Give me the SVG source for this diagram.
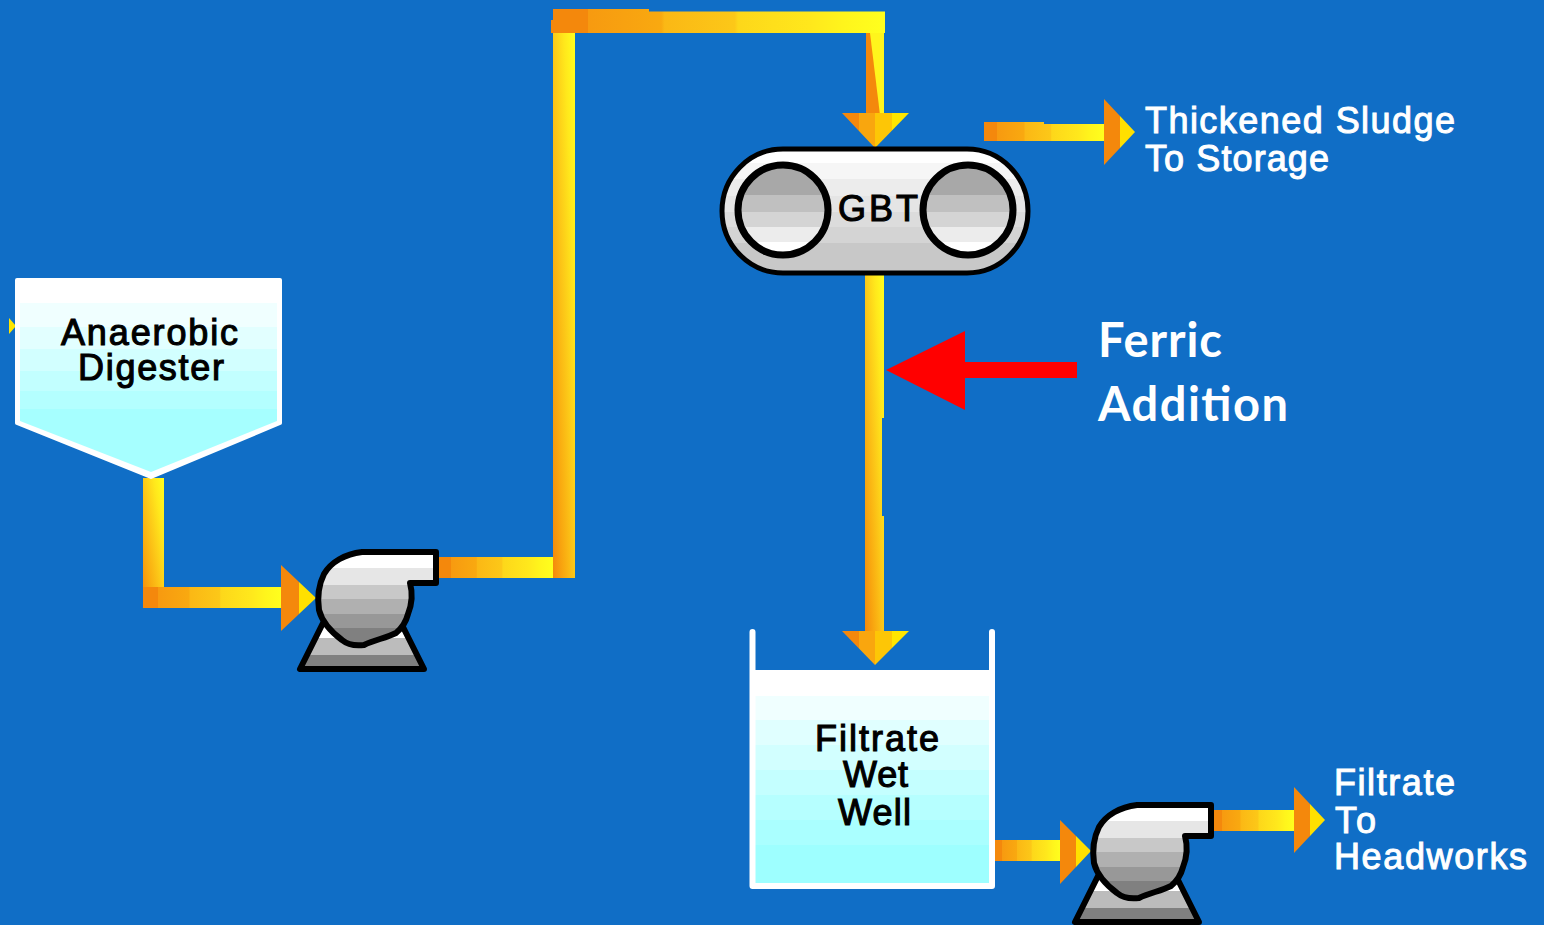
<svg xmlns="http://www.w3.org/2000/svg" width="1544" height="925" viewBox="0 0 1544 925">
<style>
.lbl{font-family:"Liberation Sans",Arial,sans-serif;font-size:36px;fill:#fff;stroke:#fff;stroke-width:1px}
.blk{font-family:"Liberation Sans",Arial,sans-serif;font-size:36px;fill:#000;stroke:#000;stroke-width:1.100px}
.fer{font-family:Lato,"Open Sans",sans-serif;font-size:47px;font-weight:700;fill:#fff}
.ln{stroke:#000;stroke-width:6;stroke-linejoin:round}
</style>
<defs>
<linearGradient id="h" x1="0" x2="1" y1="0" y2="0"><stop offset="0" stop-color="#f4880c"/><stop offset=".11" stop-color="#f4880c"/><stop offset=".11" stop-color="#f79a10"/><stop offset=".33" stop-color="#f9a910"/><stop offset=".34" stop-color="#fbb815"/><stop offset=".55" stop-color="#fcc818"/><stop offset=".56" stop-color="#fdd71a"/><stop offset=".78" stop-color="#ffe81c"/><stop offset=".88" stop-color="#fff51c"/><stop offset="1" stop-color="#ffff1e"/></linearGradient>
<linearGradient id="dg" x1="0" y1="1" x2="1" y2="0"><stop offset="0" stop-color="#f4880c"/><stop offset=".25" stop-color="#f9a910"/><stop offset=".5" stop-color="#fcc818"/><stop offset=".75" stop-color="#ffe81c"/><stop offset="1" stop-color="#ffff1e"/></linearGradient>
<linearGradient id="ad" x1="0" x2="1" y1="0" y2="0"><stop offset="0" stop-color="#f4880c"/><stop offset=".25" stop-color="#f4880c"/><stop offset=".25" stop-color="#f9a60e"/><stop offset=".5" stop-color="#f9a60e"/><stop offset=".5" stop-color="#fdc606"/><stop offset=".75" stop-color="#fdc606"/><stop offset=".75" stop-color="#ffe600"/><stop offset="1" stop-color="#ffe600"/></linearGradient>
<linearGradient id="ar" x1="0" x2="1" y1="0" y2="0"><stop offset="0" stop-color="#f4880c"/><stop offset=".52" stop-color="#f4880c"/><stop offset=".52" stop-color="#ffe000"/><stop offset="1" stop-color="#ffe000"/></linearGradient>
<linearGradient id="tank" x1="0" x2="0" y1="0" y2="1"><stop offset=".12" stop-color="#fff"/><stop offset=".12" stop-color="#f0ffff"/><stop offset=".234" stop-color="#f0ffff"/><stop offset=".234" stop-color="#e0ffff"/><stop offset=".35" stop-color="#e0ffff"/><stop offset=".35" stop-color="#d2ffff"/><stop offset=".467" stop-color="#d2ffff"/><stop offset=".467" stop-color="#c4ffff"/><stop offset=".584" stop-color="#c4ffff"/><stop offset=".584" stop-color="#b6ffff"/><stop offset=".7" stop-color="#b6ffff"/><stop offset=".7" stop-color="#aaffff"/><stop offset=".817" stop-color="#aaffff"/><stop offset=".817" stop-color="#9effff"/></linearGradient>
<linearGradient id="dig" x1="0" x2="0" y1="0" y2="1"><stop offset=".14" stop-color="#f0ffff"/><stop offset=".14" stop-color="#e2ffff"/><stop offset=".27" stop-color="#e2ffff"/><stop offset=".27" stop-color="#d2ffff"/><stop offset=".4" stop-color="#d2ffff"/><stop offset=".4" stop-color="#c2ffff"/><stop offset=".52" stop-color="#c2ffff"/><stop offset=".52" stop-color="#b4ffff"/><stop offset=".63" stop-color="#b4ffff"/><stop offset=".63" stop-color="#a6ffff"/></linearGradient>
<linearGradient id="pb" x1="0" x2="0" y1="0" y2="1"><stop offset=".17" stop-color="#fff"/><stop offset=".17" stop-color="#e6e6e6"/><stop offset=".35" stop-color="#e6e6e6"/><stop offset=".35" stop-color="#c8c8c8"/><stop offset=".5" stop-color="#c8c8c8"/><stop offset=".5" stop-color="#b0b0b0"/><stop offset=".66" stop-color="#b0b0b0"/><stop offset=".66" stop-color="#989898"/><stop offset=".81" stop-color="#989898"/><stop offset=".81" stop-color="#808080"/></linearGradient>
<linearGradient id="pbase" x1="0" x2="0" y1="0" y2="1"><stop offset=".33" stop-color="#fff"/><stop offset=".33" stop-color="#bcbcbc"/><stop offset=".7" stop-color="#bcbcbc"/><stop offset=".7" stop-color="#808080"/></linearGradient>
<linearGradient id="gb" x1="0" x2="0" y1="0" y2="1"><stop offset=".11" stop-color="#fff"/><stop offset=".11" stop-color="#f6f6f6"/><stop offset=".24" stop-color="#f6f6f6"/><stop offset=".24" stop-color="#ececec"/><stop offset=".38" stop-color="#ececec"/><stop offset=".38" stop-color="#e5e5e5"/><stop offset=".51" stop-color="#e5e5e5"/><stop offset=".51" stop-color="#dcdcdc"/><stop offset=".63" stop-color="#dcdcdc"/><stop offset=".63" stop-color="#d4d4d4"/><stop offset=".76" stop-color="#d4d4d4"/><stop offset=".76" stop-color="#c8c8c8"/></linearGradient>
<linearGradient id="gc" x1="0" x2="0" y1="0" y2="1"><stop offset=".33" stop-color="#a8a8a8"/><stop offset=".33" stop-color="#c0c0c0"/><stop offset=".52" stop-color="#c0c0c0"/><stop offset=".52" stop-color="#d4d4d4"/><stop offset=".69" stop-color="#d4d4d4"/><stop offset=".69" stop-color="#ececec"/><stop offset=".86" stop-color="#ececec"/><stop offset=".86" stop-color="#fff"/></linearGradient>
<g id="pump">
<path class="ln" fill="url(#pbase)" d="M323 623L300 669H424L403 627Z"/>
<path class="ln" fill="url(#pb)" d="M362 552H436V583H410C413 594 412 604 408 614C406 622 402 628 396 633C386 638 374 640 364 645C356 646 348 645 342 640C330 631 322 622 319 610C317 596 319 584 324 574C331 562 345 554 362 552Z"/>
</g>
</defs>
<rect width="1544" height="925" fill="#106ec6"/>
<g id="connectors">
<rect x="143" y="478" width="21" height="130" fill="url(#dg)"/>
<rect x="143" y="587" width="139" height="21" fill="url(#h)"/>
<polygon points="281,565 316,598 281,631" fill="url(#ar)"/>
<rect x="438" y="557" width="116" height="21" fill="url(#h)"/>
<rect x="553" y="33" width="22" height="545" fill="url(#dg)"/>
<path fill="url(#h)" d="M553 9H649V11.500H885V33H551V20H553Z"/>
<rect x="866" y="33" width="18" height="82" fill="#fff51c"/>
<polygon points="866,33 870,33 880,115 866,115" fill="#f4880c"/>
<polygon points="842,113 909,113 875,148" fill="url(#ad)"/>
<path fill="url(#dg)" d="M865 275H884V418H882V516H884V632H865Z"/>
<polygon points="842,631 909,631 875,665" fill="url(#ad)"/>
<path fill="url(#h)" d="M984 122H1044V124H1105V141H984Z"/>
<polygon points="1104,99 1135,132 1104,165" fill="url(#ar)"/>
<rect x="995" y="840" width="66" height="21" fill="url(#h)"/>
<polygon points="1060,820 1091,851 1060,884" fill="url(#ar)"/>
<rect x="1213" y="810" width="82" height="21" fill="url(#h)"/>
<polygon points="1294,787 1325,820 1294,853" fill="url(#ar)"/>
<polygon points="9,318 16,326 9,334" fill="#ffe600"/>
<polygon points="886,370 965,331 965,362 1077,362 1077,378 965,378 965,410" fill="#ff0000"/>
</g>
<g id="digester">
<path d="M17 280H280V423L151 477L17 423Z" fill="#fff" stroke="#fff" stroke-width="4" stroke-linejoin="round"/>
<path d="M20 303H277V421L151 472L20 421Z" fill="url(#dig)"/>
<text class="blk" x="61" y="345" textLength="177">Anaerobic</text>
<text class="blk" x="78" y="380" textLength="146">Digester</text>
</g>
<g id="pump1"><use href="#pump"/></g>
<g id="gbt">
<rect x="722" y="149" width="306" height="124" rx="61" ry="62" fill="url(#gb)" stroke="#000" stroke-width="5"/>
<circle cx="783" cy="210" r="45" fill="url(#gc)" stroke="#000" stroke-width="7"/>
<circle cx="968" cy="210" r="45" fill="url(#gc)" stroke="#000" stroke-width="7"/>
<text class="blk" x="838" y="221" textLength="80">GBT</text>
</g>
<g id="wetwell">
<path d="M755 670H990V884H755Z" fill="url(#tank)"/>
<path d="M752.500 632V886H992V632" fill="none" stroke="#fff" stroke-width="6" stroke-linejoin="round" stroke-linecap="round"/>
<text class="blk" x="815" y="751" textLength="124">Filtrate</text>
<text class="blk" x="843" y="787" textLength="65">Wet</text>
<text class="blk" x="838" y="825" textLength="73">Well</text>
</g>
<g id="pump2"><use href="#pump" x="775" y="253"/></g>
<g id="labels">
<text class="lbl" x="1145" y="133" textLength="310">Thickened Sludge</text>
<text class="lbl" x="1145" y="171" textLength="184">To Storage</text>
<text class="lbl" x="1334" y="795" textLength="121">Filtrate</text>
<text class="lbl" x="1335" y="833" textLength="41">To</text>
<text class="lbl" x="1334" y="869" textLength="193">Headworks</text>
<text class="fer" x="1098" y="357" textLength="124">Ferric</text>
<text class="fer" x="1098" y="421" textLength="190">Addition</text>
</g>
</svg>
